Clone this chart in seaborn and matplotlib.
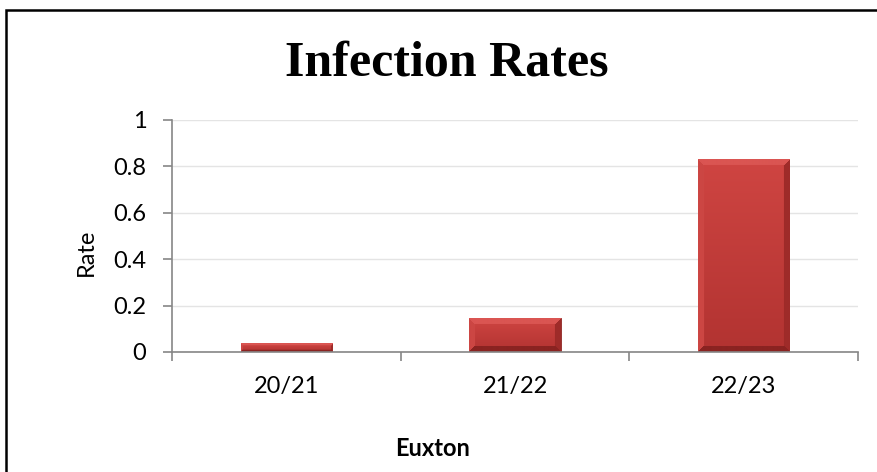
import numpy as np
import pandas as pd
import seaborn as sns
import matplotlib
matplotlib.use("Agg")
import matplotlib.pyplot as plt
from matplotlib.patches import Rectangle
from matplotlib.colors import to_rgb

# Data
seasons = ["20/21", "21/22", "22/23"]
rates = [0.035, 0.145, 0.83]
y_ticks = [0, 0.2, 0.4, 0.6, 0.8, 1]
y_tick_labels = ["0", "0.2", "0.4", "0.6", "0.8", "1"]

df = pd.DataFrame({"Season": seasons, "Rate": rates})

sns.set_theme(style="white")
plt.rcParams["font.family"] = ["Lato", "DejaVu Sans"]

W, H = 877, 472
fig = plt.figure(figsize=(W / 100, H / 100), dpi=100)
fig.patch.set_facecolor("white")

# Plot area
ax = fig.add_axes([172 / W, 1 - 352 / H, 686 / W, 232 / H])
sns.barplot(data=df, x="Season", y="Rate", ax=ax, width=0.4,
            color="#C23B38", saturation=1, edgecolor="#8E2624", linewidth=0.6)

ax.set_xlim(-0.5, 2.5)
ax.set_ylim(0, 1)
ax.set_yticks(y_ticks)
ax.set_yticklabels(y_tick_labels)

# Gridlines
ax.yaxis.grid(True, color="#E4E4E4", linewidth=1.0)
ax.set_axisbelow(True)

# Spines
for s in ["top", "right"]:
    ax.spines[s].set_visible(False)
for s in ["left", "bottom"]:
    ax.spines[s].set_color("#868686")
    ax.spines[s].set_linewidth(1.2)

# Ticks: y outward on left, x ticks at category boundaries
ax.tick_params(axis="y", which="major", direction="out", length=6.5, width=1.2,
               color="#868686", pad=12, labelsize=17, labelcolor="black", left=True)
ax.tick_params(axis="x", which="major", length=0, pad=17, labelsize=17, labelcolor="black")
ax.set_xticks([-0.5, 0.5, 1.5, 2.5], minor=True)
ax.tick_params(axis="x", which="minor", direction="out", length=6.5, width=1.2,
               color="#868686", bottom=True)

# Axis titles
ax.set_ylabel("Rate", fontsize=17, color="black")
ax.set_xlabel("Euxton", fontsize=17, fontweight="bold", color="black")
ax.yaxis.set_label_coords((86 - 172) / 686, (352 - 252) / 232)
ax.yaxis.label.set_va("center")
ax.xaxis.set_label_coords((433 - 172) / 686, (352 - 449) / 232)
ax.xaxis.label.set_va("center")

# Bevelled shading on each bar (mitred edges: light top/left, dark bottom/right)
fig.canvas.draw()
c_top = np.array(to_rgb("#DA5552"))
c_left = np.array(to_rgb("#CC4643"))
c_right = np.array(to_rgb("#9E2B29"))
c_bot = np.array(to_rgb("#8A2321"))
c_hi = np.array(to_rgb("#CF4542"))
c_lo = np.array(to_rgb("#B23331"))
for p in list(ax.patches):
    bb = p.get_window_extent()
    wpx, hpx = max(int(round(bb.width)), 2), max(int(round(bb.height)), 2)
    bev = min(6, max(1, hpx // 3))
    rows, cols = np.mgrid[0:hpx, 0:wpx]
    t = (rows / max(hpx - 1, 1))[..., None]
    img = c_hi * (1 - t) + c_lo * t
    d = np.stack([rows, hpx - 1 - rows, cols, wpx - 1 - cols])  # top, bottom, left, right
    nearest = d.argmin(axis=0)
    inside = d.min(axis=0) < bev
    for k, col in enumerate([c_top, c_bot, c_left, c_right]):
        m = inside & (nearest == k)
        img[m] = col
    x0, y0 = p.get_x(), p.get_y()
    ax.imshow(img, extent=[x0, x0 + p.get_width(), y0, y0 + p.get_height()],
              aspect="auto", interpolation="bilinear", zorder=p.get_zorder() + 0.1)
ax.set_xlim(-0.5, 2.5)
ax.set_ylim(0, 1)

# Chart title
fig.text(446.5 / W, 1 - 75 / H, "Infection Rates", ha="center", va="baseline",
         fontsize=36, fontweight="bold", family=["Liberation Serif", "DejaVu Serif"],
         color="black")

# Chart frame
fig.patches.append(Rectangle((6 / W, -0.1), 1.2, 1.1 - 10 / H, transform=fig.transFigure,
                             fill=False, edgecolor="black", linewidth=1.8, figure=fig))

fig.savefig("out.png", dpi=100)
